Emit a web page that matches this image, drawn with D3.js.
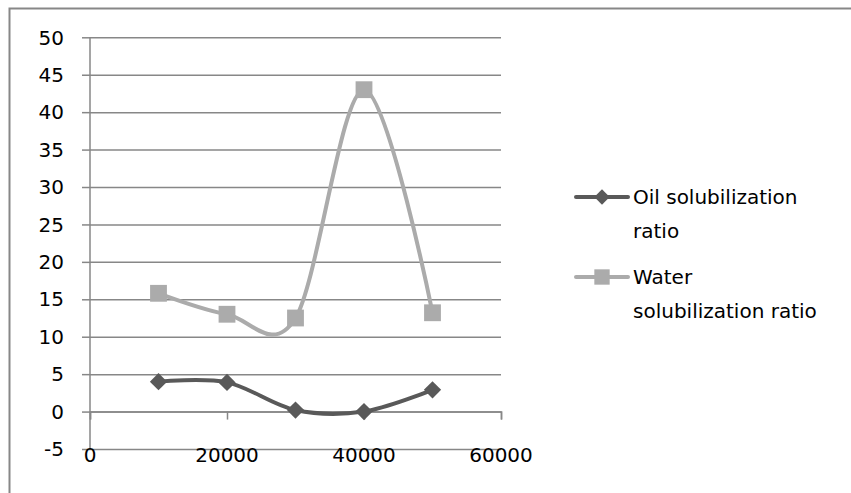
<!DOCTYPE html>
<html>
<head>
<meta charset="utf-8">
<script src="https://cdn.jsdelivr.net/npm/d3@7"></script>
<style>
  html, body { margin: 0; padding: 0; background: #fff; }
  svg { display: block; }
  text { font-family: "DejaVu Sans", sans-serif; fill: #000; }
</style>
</head>
<body>
<svg id="chart" width="851" height="493"></svg>
<script>
// Surfactant concentration on the x axis
const concentrations = [10000, 20000, 30000, 40000, 50000];
const oilRatio = [4.0, 3.9, 0.2, 0.0, 2.9];
const waterRatio = [15.8, 13.0, 12.5, 43.0, 13.2];
const seriesNames = ["Oil solubilization ratio", "Water solubilization ratio"];
const xTicks = [0, 20000, 40000, 60000];
const yTicks = [-5, 0, 5, 10, 15, 20, 25, 30, 35, 40, 45, 50];

const svg = d3.select("#chart");
const oilColor = "#595959";
const waterColor = "#ababab";
const gridColor = "#878787";
const fontSize = 20;

// chart frame (only top and left edges fall inside the view)
svg.append("rect")
  .attr("x", 9.5).attr("y", 8.5).attr("width", 900).attr("height", 600)
  .attr("fill", "none").attr("stroke", gridColor).attr("stroke-width", 2);

const x = d3.scaleLinear().domain([0, 60000]).range([90, 501]);
const y = d3.scaleLinear().domain([-5, 50]).range([449, 37.3]);

// horizontal gridlines with left tick stubs
svg.append("g")
  .attr("transform", `translate(${x(0)},0)`)
  .call(d3.axisLeft(y).tickValues(yTicks).tickSize(8).tickFormat(""))
  .call(g => g.select(".domain").remove())
  .call(g => g.selectAll(".tick line").attr("stroke", gridColor).attr("stroke-width", 1.5))
  .call(g => g.selectAll(".tick").append("line")
    .attr("x1", 0).attr("x2", x(60000) - x(0))
    .attr("stroke", gridColor).attr("stroke-width", 1.5));

// y tick labels
svg.append("g").selectAll("text").data(yTicks).join("text")
  .attr("x", 64).attr("y", d => y(d))
  .attr("dy", "0.36em")
  .attr("text-anchor", "end")
  .attr("font-size", fontSize)
  .text(d => d);

// vertical axis line
svg.append("line")
  .attr("x1", x(0)).attr("x2", x(0))
  .attr("y1", y(50)).attr("y2", y(-5))
  .attr("stroke", gridColor).attr("stroke-width", 1.5);

// horizontal axis through zero with downward ticks
svg.append("g")
  .attr("transform", `translate(0,${y(0)})`)
  .call(d3.axisBottom(x).tickValues(xTicks).tickSize(8).tickFormat(""))
  .call(g => g.select(".domain").attr("stroke", gridColor).attr("stroke-width", 1.5))
  .call(g => g.selectAll(".tick line").attr("stroke", gridColor).attr("stroke-width", 1.5));

// x tick labels sit at the bottom of the plot
svg.append("g").selectAll("text").data(xTicks).join("text")
  .attr("x", d => x(d)).attr("y", y(-5) + 6)
  .attr("dy", "0.36em")
  .attr("text-anchor", "middle")
  .attr("font-size", fontSize)
  .text(d => d);

const line = d3.line().curve(d3.curveCardinal.tension(0))
  .x(d => x(d[0])).y(d => y(d[1]));

const waterPts = concentrations.map((c, i) => [c, waterRatio[i]]);
const oilPts = concentrations.map((c, i) => [c, oilRatio[i]]);

const diamond = d3.symbol().type(d3.symbolDiamond2).size(190);
const square = d3.symbol().type(d3.symbolSquare2).size(360);

function drawSeries(pts, color, sym) {
  svg.append("path").datum(pts)
    .attr("d", line)
    .attr("fill", "none").attr("stroke", color)
    .attr("stroke-width", 4).attr("stroke-linejoin", "round").attr("stroke-linecap", "round");
  svg.append("g").selectAll("path").data(pts).join("path")
    .attr("transform", d => `translate(${x(d[0])},${y(d[1])})`)
    .attr("d", sym).attr("fill", color);
}

drawSeries(waterPts, waterColor, square);
drawSeries(oilPts, oilColor, diamond);

// legend
const legend = [
  { name: seriesNames[0], color: oilColor, marker: d3.symbol().type(d3.symbolDiamond2).size(150), cy: 197, lines: ["Oil solubilization", "ratio"] },
  { name: seriesNames[1], color: waterColor, marker: d3.symbol().type(d3.symbolSquare2).size(300), cy: 277, lines: ["Water", "solubilization ratio"] }
];
const lg = svg.append("g");
legend.forEach(d => {
  lg.append("line")
    .attr("x1", 576).attr("x2", 628).attr("y1", d.cy).attr("y2", d.cy)
    .attr("stroke", d.color).attr("stroke-width", 4).attr("stroke-linecap", "round");
  lg.append("path")
    .attr("transform", `translate(602,${d.cy})`)
    .attr("d", d.marker)
    .attr("fill", d.color);
  d.lines.forEach((t, i) => {
    lg.append("text")
      .attr("x", 633).attr("y", d.cy + i * 34)
      .attr("dy", "0.36em")
      .attr("font-size", fontSize)
      .text(t);
  });
});
</script>
</body>
</html>
